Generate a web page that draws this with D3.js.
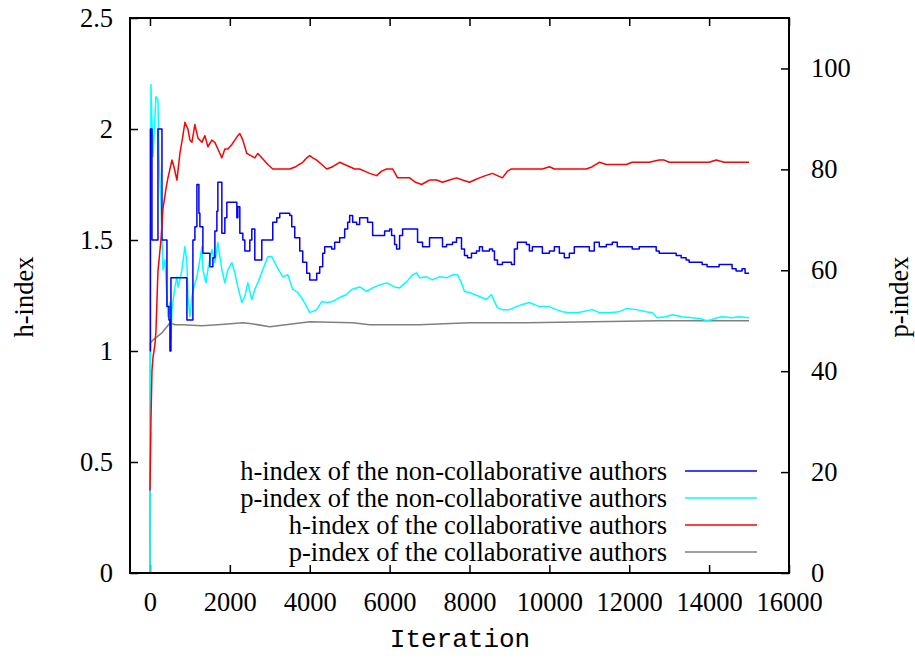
<!DOCTYPE html>
<html lang="en">
<head>
    <meta charset="UTF-8">
    <title>h-index and p-index vs iteration</title>
    <script src="https://cdnjs.cloudflare.com/ajax/libs/d3/7.8.5/d3.min.js"></script>
    <style>
        body { margin: 0; background: #fff; }
        svg { display: block; }
        .tick text { font-family: "Liberation Serif", "Times New Roman", serif; font-size: 26.5px; fill: #000; }
        .tick line { stroke: #000; stroke-width: 1.5px; }
        .series { fill: none; stroke-width: 1.5px; stroke-linejoin: round; }
        .legend text { font-family: "Liberation Serif", "Times New Roman", serif; font-size: 26.5px; }
    </style>
</head>
<body>
<svg width="915" height="659"></svg>
<script>
    // axis ticks
    let xTicks = [0, 2000, 4000, 6000, 8000, 10000, 12000, 14000, 16000];
    let hTicks = [0, 0.5, 1, 1.5, 2, 2.5];
    let pTicks = [0, 20, 40, 60, 80, 100];

    // [iteration, h-index] of the collaborative authors
    let hCollab = [
        [0,0.37],[25,0.69],[50,0.91],[75,0.97],[125,1.03],[150,1.09],[200,1.36],[275,1.50],[325,1.64],[400,1.73],
        [450,1.78],[550,1.86],[600,1.83],[675,1.77],[750,1.89],[825,1.97],[875,2.03],[950,2.00],[1000,1.95],[1050,1.94],
        [1125,2.02],[1200,1.96],[1300,1.94],[1375,1.97],[1450,1.92],[1550,1.95],[1625,1.94],[1700,1.91],[1800,1.87],[1875,1.91],
        [1950,1.91],[2050,1.93],[2125,1.95],[2200,1.97],[2250,1.98],[2325,1.95],[2425,1.89],[2525,1.88],[2625,1.87],[2700,1.89],
        [2800,1.87],[2950,1.84],[3075,1.82],[3200,1.82],[3325,1.82],[3500,1.82],[3650,1.83],[3825,1.85],[3925,1.87],[4000,1.88],
        [4075,1.87],[4175,1.86],[4300,1.84],[4425,1.82],[4575,1.83],[4750,1.85],[4875,1.84],[5000,1.83],[5125,1.82],[5250,1.82],
        [5375,1.81],[5500,1.80],[5675,1.79],[5800,1.81],[5925,1.82],[6075,1.82],[6200,1.78],[6350,1.78],[6500,1.78],[6650,1.76],
        [6800,1.75],[6900,1.76],[7000,1.77],[7175,1.77],[7325,1.76],[7500,1.77],[7675,1.78],[7825,1.77],[8000,1.76],[8125,1.77],
        [8250,1.78],[8400,1.79],[8575,1.80],[8700,1.79],[8825,1.78],[8950,1.81],[9050,1.82],[9250,1.82],[9375,1.82],[9500,1.82],
        [9675,1.82],[9825,1.82],[10000,1.83],[10125,1.82],[10250,1.82],[10425,1.82],[10575,1.82],[10750,1.82],[10925,1.82],[11075,1.83],
        [11250,1.85],[11425,1.84],[11575,1.84],[11750,1.84],[11925,1.84],[12075,1.85],[12250,1.85],[12500,1.85],[12750,1.86],[12875,1.86],
        [13000,1.85],[13250,1.85],[13500,1.85],[13750,1.85],[14000,1.85],[14175,1.86],[14375,1.85],[14550,1.85],[14750,1.85],[14875,1.85],
        [15000,1.85]
    ];

    // [iteration, h-index] of the non-collaborative authors (step values)
    let hNonCollab = [
        [0,1.00],[10,2.00],[50,1.50],[200,2.00],[300,1.50],[425,1.20],[475,1.14],[500,1.00],[525,1.33],[925,1.14],
        [1075,1.50],[1125,1.56],[1175,1.75],[1225,1.62],[1250,1.56],[1325,1.44],[1500,1.38],[1575,1.42],[1625,1.54],[1675,1.63],
        [1700,1.76],[1800,1.53],[1875,1.60],[1925,1.67],[2175,1.60],[2200,1.65],[2250,1.53],[2325,1.50],[2375,1.45],[2500,1.50],
        [2550,1.55],[2625,1.41],[2800,1.50],[3075,1.58],[3175,1.60],[3250,1.62],[3500,1.61],[3550,1.56],[3625,1.51],[3750,1.45],
        [3825,1.40],[3925,1.35],[4000,1.32],[4175,1.35],[4250,1.38],[4325,1.44],[4375,1.47],[4550,1.46],[4625,1.49],[4750,1.51],
        [4875,1.55],[4950,1.58],[5000,1.61],[5075,1.58],[5175,1.57],[5250,1.60],[5450,1.58],[5575,1.52],[5875,1.54],[6000,1.55],
        [6050,1.52],[6125,1.48],[6175,1.46],[6250,1.52],[6325,1.55],[6700,1.49],[6825,1.47],[7000,1.51],[7325,1.47],[7425,1.48],
        [7575,1.49],[7675,1.51],[7800,1.46],[7875,1.43],[7950,1.42],[8050,1.44],[8175,1.45],[8250,1.47],[8325,1.45],[8500,1.46],
        [8575,1.45],[8625,1.41],[8700,1.39],[8825,1.40],[9050,1.39],[9125,1.46],[9200,1.49],[9425,1.48],[9500,1.45],[9575,1.47],
        [9825,1.44],[10000,1.45],[10125,1.47],[10250,1.44],[10375,1.42],[10500,1.44],[10625,1.47],[11000,1.45],[11125,1.49],[11250,1.47],
        [11425,1.48],[11575,1.49],[11700,1.47],[12075,1.46],[12250,1.47],[12675,1.45],[12750,1.44],[13175,1.43],[13300,1.42],[13425,1.41],
        [13500,1.40],[13825,1.39],[13950,1.38],[14250,1.39],[14575,1.37],[14675,1.36],[14825,1.37],[14900,1.35],[15000,1.35]
    ];

    // [iteration, p-index] of the non-collaborative authors
    let pNonCollab = [
        [0,0],[10,45],[25,96.8],[75,82.5],[150,94.4],[200,93.8],[225,82.5],[275,73.4],[325,60.1],[375,62.1],
        [425,54.8],[450,50.8],[500,53.6],[525,46.2],[550,52.2],[625,56.7],[675,58.7],[700,56.7],[750,58.1],[800,60.1],
        [875,64.7],[925,61.5],[950,54.8],[1000,50.8],[1050,54.8],[1100,56.7],[1175,58.7],[1250,62.1],[1300,64.7],[1325,60.1],
        [1400,57.5],[1450,60.1],[1550,64.1],[1625,61.5],[1700,65.5],[1800,60.1],[1875,57.5],[1950,60.1],[2050,61.5],[2125,59.5],
        [2200,56.7],[2300,53.6],[2375,54.8],[2450,57.5],[2550,54.2],[2625,56.2],[2700,57.5],[2825,60.1],[2950,62.7],[3050,62.7],
        [3175,60.7],[3325,58.7],[3450,59.1],[3575,56.2],[3700,55.6],[3825,54.2],[3925,52.8],[4000,51.6],[4175,52.2],[4300,53.8],
        [4425,53.6],[4575,53.8],[4750,54.6],[4925,55.2],[5050,56.2],[5250,56.7],[5425,55.8],[5575,56.5],[5750,57.1],[5925,57.5],
        [6125,56.7],[6250,56.5],[6425,57.7],[6575,59.1],[6675,59.5],[6750,58.5],[6925,58.7],[7075,58.1],[7250,58.7],[7425,58.5],
        [7575,59.1],[7700,59.1],[7800,57.5],[7875,55.8],[8000,55.6],[8250,54.8],[8425,54.2],[8550,55.2],[8625,53.8],[8700,52.6],
        [8825,52.2],[9000,52.2],[9175,52.8],[9325,53.2],[9500,53.6],[9750,52.8],[10000,52.8],[10175,52.2],[10325,51.8],[10500,51.6],
        [10675,51.6],[10825,51.8],[11075,52.2],[11250,51.6],[11500,51.6],[11750,51.8],[11925,52.4],[12175,52.2],[12425,51.8],[12575,51.6],
        [12700,50.6],[12925,50.8],[13075,51.2],[13325,50.8],[13575,50.6],[13800,50.4],[13925,50.0],[14050,50.2],[14200,50.6],[14325,50.8],
        [14575,50.6],[14750,50.8],[15000,50.6]
    ];

    // [iteration, p-index] of the collaborative authors
    let pCollab = [
        [0,0],[10,45.6],[75,46.2],[175,46.8],[300,47.6],[425,48.8],[500,49.6],[625,49.2],[800,49.2],[1300,49.0],
        [1700,49.2],[2325,49.6],[2550,49.4],[3000,48.8],[4000,49.8],[5075,49.6],[5500,49.2],[6750,49.2],[8000,49.6],[9425,49.6],
        [11075,49.8],[12750,50.0],[15000,50.0]
    ];

    let legendLabels = [
        "h-index of the non-collaborative authors",
        "p-index of the non-collaborative authors",
        "h-index of the collaborative authors",
        "p-index of the collaborative authors"
    ];
    let colors = ["#0000ff", "#00ffff", "#ff0000", "#808080"];

    let margin = {left: 130, top: 18, right: 126, bottom: 86};
    let width = 915 - margin.left - margin.right;
    let height = 659 - margin.top - margin.bottom;

    let svg = d3.select("svg");
    let g = svg.append("g").attr("transform", `translate(${margin.left},${margin.top})`);

    let x = d3.scaleLinear().domain([-500, 16000]).range([0, width]);
    let yH = d3.scaleLinear().domain([0, 2.5]).range([height, 0]);
    let yP = d3.scaleLinear().domain([0, 110]).range([height, 0]);

    g.append("clipPath").attr("id", "clip")
        .append("rect").attr("width", width).attr("height", height);

    // axes, ticks point inward like gnuplot
    g.append("g").attr("transform", `translate(0,${height})`)
        .call(d3.axisBottom(x).tickValues(xTicks).tickSize(-8).tickPadding(19).tickFormat(d3.format("d")));
    g.append("g")
        .call(d3.axisTop(x).tickValues(xTicks).tickSize(-8).tickFormat(""));
    g.append("g")
        .call(d3.axisLeft(yH).tickValues(hTicks).tickSize(-8).tickPadding(17).tickFormat(d => d));
    g.append("g").attr("transform", `translate(${width},0)`)
        .call(d3.axisRight(yP).tickValues(pTicks).tickSize(-8).tickPadding(22).tickFormat(d => d));
    g.selectAll(".domain").remove();

    let hLine = d3.line().x(d => x(d[0])).y(d => yH(d[1]));
    let hStep = d3.line().curve(d3.curveStepAfter).x(d => x(d[0])).y(d => yH(d[1]));
    let pLine = d3.line().x(d => x(d[0])).y(d => yP(d[1]));

    let plot = g.append("g").attr("clip-path", "url(#clip)");
    plot.append("path").attr("class", "series").attr("stroke", colors[3]).attr("d", pLine(pCollab));
    plot.append("path").attr("class", "series").attr("stroke", colors[1]).attr("d", pLine(pNonCollab));
    plot.append("path").attr("class", "series").attr("stroke", colors[0]).attr("d", hStep(hNonCollab));
    plot.append("path").attr("class", "series").attr("stroke", colors[2]).attr("d", hLine(hCollab));

    // frame
    g.append("rect").attr("width", width).attr("height", height)
        .attr("fill", "none").attr("stroke", "#000").attr("stroke-width", 2);

    // legend
    let legend = g.append("g").attr("class", "legend");
    legendLabels.forEach((label, i) => {
        let ly = 453 + i * 27;
        legend.append("text").attr("x", 537).attr("y", ly).attr("dy", "0.35em")
            .attr("text-anchor", "end").text(label);
        legend.append("line").attr("x1", 555).attr("x2", 627).attr("y1", ly).attr("y2", ly)
            .attr("stroke", colors[i]).attr("stroke-width", 1.5);
    });

    // axis titles
    svg.append("text").attr("transform", "translate(33,297) rotate(-90)")
        .attr("text-anchor", "middle")
        .style("font-family", "'Liberation Serif', 'Times New Roman', serif").style("font-size", "26.5px")
        .text("h-index");
    svg.append("text").attr("transform", "translate(908,297) rotate(-90)")
        .attr("text-anchor", "middle")
        .style("font-family", "'Liberation Serif', 'Times New Roman', serif").style("font-size", "26.5px")
        .text("p-index");
    svg.append("text").attr("x", 460).attr("y", 647)
        .attr("text-anchor", "middle")
        .style("font-family", "'Liberation Mono', monospace").style("font-size", "26px")
        .text("Iteration");
</script>
</body>
</html>
